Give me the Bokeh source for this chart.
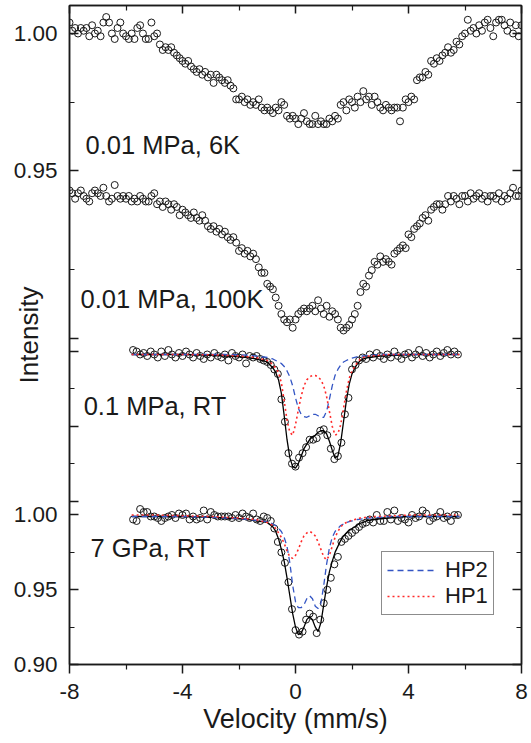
import numpy as np
from bokeh.plotting import figure
from bokeh.models import Range1d, LinearAxis, FixedTicker, Label, Legend, LegendItem
from bokeh.embed import file_html
from bokeh.resources import INLINE

# ---------------- data ----------------
# 0.01 MPa, 6K  (velocity -8 ... 8 mm/s, equally spaced channels)
i_6k = [1.004, 1.001, 1.002, 1.000, 1.002, 1.001, 1.002, 0.999, 1.003, 1.000,
        1.001, 0.999, 1.004, 1.006, 1.004, 1.000, 0.998, 1.002, 1.004, 1.000,
        0.999, 0.998, 1.000, 0.998, 1.002,
        1.003, 1.000, 0.998, 0.998, 1.004, 0.999, 1.000, 0.996, 0.994, 0.995,
        0.994, 0.995, 0.993, 0.992, 0.991, 0.990, 0.989, 0.990, 0.988, 0.987,
        0.986, 0.987, 0.985, 0.986, 0.984, 0.985, 0.982, 0.985, 0.984, 0.983,
        0.982, 0.983, 0.981, 0.980, 0.976, 0.976, 0.977, 0.975, 0.976, 0.974,
        0.975, 0.974, 0.976, 0.973, 0.972, 0.973, 0.972, 0.971, 0.973, 0.972,
        0.975, 0.974, 0.970, 0.969, 0.970, 0.969, 0.967, 0.969, 0.971, 0.968,
        0.967, 0.967, 0.970, 0.967, 0.968, 0.967, 0.967, 0.969, 0.968, 0.970,
        0.969, 0.974, 0.975, 0.972, 0.976, 0.975, 0.973, 0.977, 0.975, 0.979,
        0.976, 0.977, 0.974, 0.977, 0.975, 0.973, 0.972, 0.974, 0.973, 0.972,
        0.973, 0.973, 0.968, 0.973, 0.976, 0.975, 0.977, 0.976, 0.983, 0.984,
        0.984, 0.986, 0.985, 0.990, 0.989, 0.991, 0.990, 0.992, 0.993, 0.995,
        0.993, 0.994, 0.997, 0.996, 0.999, 1.000, 1.005, 1.001, 1.002, 1.000,
        1.003, 1.001, 1.004, 1.005, 1.002, 0.999, 1.004, 1.005, 1.005, 1.003,
        1.001, 1.004, 1.000, 1.003, 0.999, 1.003]

# 0.01 MPa, 100K
i_100k = [1.000, 0.999, 0.997, 0.999, 1.000, 0.998, 0.997, 0.996, 0.999, 1.000,
          0.999, 0.998, 1.001, 0.998, 0.996, 0.997, 1.002, 0.998, 0.997, 0.998,
          0.997, 0.998, 0.996, 0.997, 0.996,
          0.998, 0.997, 0.996, 0.996, 0.998, 0.999, 0.995, 0.996, 0.994, 0.996,
          0.995, 0.993, 0.995, 0.994, 0.991, 0.993, 0.992, 0.991, 0.990, 0.992,
          0.990, 0.989, 0.991, 0.989, 0.987, 0.986, 0.987, 0.985, 0.986, 0.984,
          0.985, 0.983, 0.982, 0.983, 0.981, 0.978, 0.979, 0.977, 0.978, 0.976,
          0.977, 0.975, 0.972, 0.970, 0.970, 0.966, 0.965, 0.964, 0.961, 0.958,
          0.955, 0.953, 0.952, 0.953, 0.950, 0.953, 0.955, 0.956, 0.957, 0.956,
          0.957, 0.958, 0.956, 0.960, 0.957, 0.955, 0.958, 0.954, 0.956, 0.955,
          0.953, 0.950, 0.949, 0.950, 0.951, 0.953, 0.955, 0.958, 0.963, 0.966,
          0.965, 0.969, 0.971, 0.974, 0.973, 0.976, 0.974, 0.975, 0.974, 0.973,
          0.977, 0.978, 0.979, 0.980, 0.979, 0.984, 0.983, 0.986, 0.987, 0.988,
          0.990, 0.991, 0.989, 0.993, 0.994, 0.995, 0.995, 0.993, 0.995, 0.998,
          0.996, 0.998, 0.997, 0.995, 0.998, 0.998, 0.996, 0.999, 0.997, 0.998,
          0.999, 0.997, 0.998, 0.996, 0.998, 0.998, 0.997, 0.999, 0.996, 0.998,
          0.997, 0.999, 1.001, 0.998, 0.998, 1.000]

# 0.1 MPa, RT  (velocity -5.75 ... 5.75 mm/s)
i_01mpa = [1.001, 1.000, 0.998, 0.999, 0.997, 1.000, 0.998, 0.996, 1.000, 0.997,
           1.001, 0.998, 0.996, 0.999, 0.997, 1.000, 0.998, 0.996, 0.999, 0.997,
           0.995, 0.998, 0.996, 0.999, 0.997, 0.996, 0.998, 0.994, 0.999, 0.997,
           0.996, 0.998, 0.992, 0.997, 0.996, 0.997, 0.995, 0.994, 0.993, 0.991,
           0.988, 0.985, 0.968, 0.953, 0.932, 0.925, 0.923, 0.929, 0.932, 0.936,
           0.941, 0.941, 0.942, 0.947, 0.948, 0.944, 0.935, 0.928, 0.930, 0.939,
           0.958, 0.969, 0.988, 0.991, 0.994, 0.996, 0.995, 0.998, 0.996, 0.999,
           0.997, 0.995, 0.998, 0.996, 1.000, 0.997, 0.995, 0.998, 0.999, 0.996,
           0.998, 1.001, 0.997, 0.999, 0.996, 0.998, 1.000, 0.997, 0.999, 1.001,
           0.998, 1.000, 0.998]

# 7 GPa, RT
i_7gpa = [0.997, 0.996, 1.004, 1.002, 1.002, 0.999, 0.999, 0.998, 0.996, 0.998,
          0.999, 1.000, 0.998, 1.001, 1.000, 1.001, 0.997, 0.999, 0.997, 0.998,
          1.003, 0.997, 1.002, 1.000, 0.999, 0.999, 0.999, 0.999, 0.998, 1.000,
          0.998, 1.001, 0.999, 0.998, 1.001, 0.997, 0.996, 0.999, 0.998, 0.996,
          0.991, 0.982, 0.975, 0.968, 0.955, 0.937, 0.923, 0.920, 0.922, 0.930,
          0.934, 0.932, 0.921, 0.930, 0.941, 0.950, 0.958, 0.967, 0.972, 0.982,
          0.984, 0.986, 0.988, 0.990, 0.992, 0.994, 0.995, 0.997, 0.995, 1.000,
          0.996, 0.996, 1.002, 0.997, 1.003, 0.996, 0.998, 0.997, 0.995, 1.000,
          0.998, 0.999, 1.003, 1.001, 0.996, 0.998, 0.999, 1.002, 0.998, 0.999,
          0.996, 1.000, 1.000]

# fitted curves (velocity grid of the fits)
v_fit = [-5.8, -5.0, -4.0, -3.0, -2.5, -2.0, -1.7, -1.4, -1.2,
         -1.0, -0.9, -0.8, -0.7, -0.6, -0.5, -0.4, -0.3, -0.2, -0.1,
         0.0, 0.1, 0.2, 0.3, 0.4, 0.5, 0.6, 0.7, 0.8, 0.9,
         1.0, 1.1, 1.2, 1.3, 1.4, 1.5, 1.6, 1.7, 1.8, 1.9,
         2.0, 2.1, 2.2, 2.3, 2.4, 2.5, 2.6,
         2.8, 3.0, 3.3, 3.6, 4.0, 5.0, 5.8]

fit_01_total = [0.998, 0.998, 0.998, 0.9975, 0.997, 0.9965, 0.996, 0.995, 0.994,
                0.993, 0.991, 0.989, 0.986, 0.981, 0.972, 0.957, 0.941, 0.929, 0.923,
                0.922, 0.925, 0.930, 0.935, 0.938, 0.941, 0.943, 0.944, 0.946, 0.947,
                0.947, 0.945, 0.940, 0.934, 0.929, 0.930, 0.939, 0.953, 0.967, 0.978,
                0.985, 0.989, 0.992, 0.994, 0.995, 0.9955, 0.996,
                0.9965, 0.997, 0.9972, 0.9975, 0.998, 0.998, 0.998]
fit_01_hp2 = [0.998, 0.998, 0.998, 0.998, 0.998, 0.9978, 0.9975, 0.997, 0.9965,
              0.996, 0.9955, 0.995, 0.994, 0.993, 0.992, 0.990, 0.987, 0.983, 0.977,
              0.969, 0.962, 0.958, 0.9565, 0.956, 0.957, 0.958, 0.958, 0.957, 0.956,
              0.956, 0.960, 0.968, 0.977, 0.984, 0.988, 0.991, 0.993, 0.994, 0.995,
              0.9955, 0.996, 0.9965, 0.997, 0.997, 0.9972, 0.9975,
              0.9977, 0.998, 0.998, 0.998, 0.998, 0.998, 0.998]
fit_01_hp1 = [0.998, 0.998, 0.998, 0.9978, 0.9975, 0.997, 0.9965, 0.996, 0.995,
              0.994, 0.993, 0.991, 0.989, 0.986, 0.979, 0.967, 0.954, 0.946, 0.944,
              0.951, 0.961, 0.970, 0.977, 0.981, 0.983, 0.984, 0.984, 0.983, 0.981,
              0.977, 0.970, 0.960, 0.950, 0.944, 0.945, 0.951, 0.962, 0.973, 0.982,
              0.987, 0.990, 0.993, 0.995, 0.996, 0.9965, 0.997,
              0.9972, 0.9975, 0.998, 0.998, 0.998, 0.998, 0.998]

fit_7_total = [0.999, 0.999, 0.999, 0.9985, 0.998, 0.9975, 0.997, 0.996, 0.9955,
               0.995, 0.9935, 0.992, 0.989, 0.984, 0.977, 0.969, 0.958, 0.946, 0.934,
               0.925, 0.920, 0.921, 0.925, 0.930, 0.932, 0.930, 0.925, 0.922, 0.928,
               0.940, 0.952, 0.962, 0.969, 0.975, 0.979, 0.983, 0.986, 0.988, 0.990,
               0.991, 0.992, 0.9935, 0.9945, 0.995, 0.996, 0.9965,
               0.997, 0.9975, 0.998, 0.9985, 0.999, 0.999, 0.999]
fit_7_hp2 = [0.999, 0.999, 0.999, 0.9985, 0.998, 0.9975, 0.997, 0.9965, 0.996,
             0.9955, 0.995, 0.994, 0.993, 0.991, 0.989, 0.985, 0.979, 0.968, 0.953,
             0.942, 0.938, 0.938, 0.940, 0.944, 0.946, 0.944, 0.939, 0.9375, 0.941,
             0.953, 0.967, 0.978, 0.985, 0.989, 0.991, 0.993, 0.994, 0.995, 0.9955,
             0.996, 0.9965, 0.997, 0.9972, 0.9975, 0.998, 0.998,
             0.9982, 0.9985, 0.999, 0.999, 0.999, 0.999, 0.999]
fit_7_hp1 = [1.000, 1.000, 0.9995, 0.999, 0.9985, 0.998, 0.9975, 0.997, 0.996,
             0.995, 0.994, 0.993, 0.991, 0.988, 0.985, 0.981, 0.976, 0.972, 0.971,
             0.973, 0.977, 0.982, 0.986, 0.988, 0.989, 0.988, 0.986, 0.982, 0.977,
             0.972, 0.970, 0.973, 0.979, 0.985, 0.989, 0.992, 0.994, 0.995, 0.996,
             0.9965, 0.997, 0.9975, 0.998, 0.998, 0.9985, 0.9985,
             0.999, 0.999, 0.9995, 0.9995, 1.000, 1.000, 1.000]

panel_names = ["0.01 MPa, 6K", "0.01 MPa, 100K", "0.1 MPa, RT", "7 GPa, RT"]
legend_names = ["HP2", "HP1"]
x_ticks_major = [-8, -4, 0, 4, 8]
x_ticks_minor = [-6, -2, 2, 6]
x_tick_labels = ["-8", "-4", "0", "4", "8"]

# ---------------- stacking of the panels (layout) ----------------
# plotted value = reference + (intensity - 1) * scale
REF_6K, REF_100K, REF_01, REF_7 = 1.32207, 1.21706, 1.10936, 1.0
SCALE_TOP, SCALE_LOW = 1.8361, 1.0


def place(intensity, ref, scale):
    return ref + (np.asarray(intensity, dtype=float) - 1.0) * scale


v_top = np.linspace(-8.0, 8.0, len(i_6k))
v_top2 = np.linspace(-8.0, 8.0, len(i_100k))
v_low = np.linspace(-5.75, 5.75, len(i_01mpa))
v_low2 = np.linspace(-5.75, 5.75, len(i_7gpa))

FONT = "Liberation Sans"
INK = "#1a1a1a"
BLUE = "#3355c4"
RED = "#ff2a2a"

p = figure(width=531, height=743,
           x_range=Range1d(-8, 8), y_range=Range1d(0.90, 1.34080),
           output_backend="svg", toolbar_location=None,
           min_border_left=69, min_border_right=10,
           min_border_top=5, min_border_bottom=79)
p.grid.visible = False
p.outline_line_color = INK
p.outline_line_width = 1.5
p.background_fill_color = "white"
p.border_fill_color = "white"

# ---- data markers
for vx, vals, ref, sc in [(v_top, i_6k, REF_6K, SCALE_TOP),
                          (v_top2, i_100k, REF_100K, SCALE_TOP),
                          (v_low, i_01mpa, REF_01, SCALE_LOW),
                          (v_low2, i_7gpa, REF_7, SCALE_LOW)]:
    p.scatter(vx, place(vals, ref, sc), marker="circle", size=7,
              fill_color=None, line_color=INK, line_width=1)

# ---- fitted lines
renderers = {}
for key, tot, hp2, hp1, ref in [("01", fit_01_total, fit_01_hp2, fit_01_hp1, REF_01),
                                ("7", fit_7_total, fit_7_hp2, fit_7_hp1, REF_7)]:
    p.line(v_fit, place(tot, ref, SCALE_LOW), line_color="black", line_width=1.3)
    r2 = p.line(v_fit, place(hp2, ref, SCALE_LOW), line_color=BLUE,
                line_width=1.3, line_dash="6 4")
    r1 = p.line(v_fit, place(hp1, ref, SCALE_LOW), line_color=RED,
                line_width=1.6, line_dash="2 3")
    renderers[key] = (r2, r1)

# ---- panel labels
label_pos = [(-7.43, 1.2472), (-7.61, 1.1448), (-7.50, 1.0732), (-7.26, 0.9776)]
for name, (lx, ly) in zip(panel_names, label_pos):
    p.add_layout(Label(x=lx, y=ly, text=name, text_font=FONT,
                       text_font_size="25.5px", text_color=INK,
                       text_baseline="alphabetic", text_align="left"))

# ---- y ticks
y_lab = {
    float(place(1.00, REF_6K, SCALE_TOP)): "1.00",
    float(place(0.95, REF_6K, SCALE_TOP)): "0.95",
    float(place(1.00, REF_7, SCALE_LOW)): "1.00",
    float(place(0.95, REF_7, SCALE_LOW)): "0.95",
    float(place(0.90, REF_7, SCALE_LOW)): "0.90",
}
y_major_extra = [1.11806,
                 float(place(1.00, REF_01, SCALE_LOW)),
                 float(place(0.95, REF_01, SCALE_LOW)),
                 float(place(0.90, REF_01, SCALE_LOW))]
y_minor = [float(place(0.975, REF_6K, SCALE_TOP)), 1.16421,
           float(place(0.975, REF_01, SCALE_LOW)),
           float(place(0.925, REF_01, SCALE_LOW)),
           float(place(0.975, REF_7, SCALE_LOW)),
           float(place(0.925, REF_7, SCALE_LOW))]
y_major = list(y_lab.keys()) + y_major_extra
overrides = dict(y_lab)
for t in y_major_extra:
    overrides[t] = ""

yax = p.yaxis[0]
yax.ticker = FixedTicker(ticks=y_major, minor_ticks=y_minor)
yax.major_label_overrides = overrides
yax.major_tick_in = 9
yax.major_tick_out = 0
yax.minor_tick_in = 5
yax.minor_tick_out = 0
yax.major_label_standoff = 12
yax.major_label_text_font = FONT
yax.major_label_text_font_size = "22.5px"
yax.major_label_text_color = INK
yax.axis_label = "Intensity"
yax.axis_label_text_font = FONT
yax.axis_label_text_font_size = "26px"
yax.axis_label_text_font_style = "normal"
yax.axis_label_text_color = INK
yax.axis_label_standoff = -33
yax.axis_line_color = INK
yax.axis_line_width = 1.5
yax.major_tick_line_color = INK
yax.major_tick_line_width = 1.5
yax.minor_tick_line_color = INK
yax.minor_tick_line_width = 1.2

xax = p.xaxis[0]
xax.ticker = FixedTicker(ticks=x_ticks_major, minor_ticks=x_ticks_minor)
xax.major_label_overrides = dict(zip(x_ticks_major, x_tick_labels))
xax.major_tick_in = 0
xax.major_tick_out = 9
xax.minor_tick_in = 0
xax.minor_tick_out = 5
xax.major_label_standoff = 10
xax.major_label_text_font = FONT
xax.major_label_text_font_size = "22.5px"
xax.major_label_text_color = INK
xax.axis_label = "Velocity (mm/s)"
xax.axis_label_text_font = FONT
xax.axis_label_text_font_size = "27px"
xax.axis_label_text_font_style = "normal"
xax.axis_label_text_color = INK
xax.axis_label_standoff = 2
xax.axis_line_color = INK
xax.axis_line_width = 1.5
xax.major_tick_line_color = INK
xax.major_tick_line_width = 1.5
xax.minor_tick_line_color = INK
xax.minor_tick_line_width = 1.2

# mirrored axes (ticks pointing in, labels not drawn)
mirror_style = dict(major_label_text_font_size="1px", major_label_text_color=None,
                    major_label_standoff=0,
                    axis_line_color=INK, axis_line_width=1.5,
                    major_tick_line_color=INK, major_tick_line_width=1.5,
                    minor_tick_line_color=INK, minor_tick_line_width=1.2)
right = LinearAxis(ticker=FixedTicker(ticks=y_major, minor_ticks=y_minor),
                   major_tick_in=9, major_tick_out=0, minor_tick_in=5, minor_tick_out=0,
                   **mirror_style)
p.add_layout(right, "right")
top = LinearAxis(ticker=FixedTicker(ticks=x_ticks_major, minor_ticks=x_ticks_minor),
                 major_tick_in=8, major_tick_out=0, minor_tick_in=5, minor_tick_out=0,
                 **mirror_style)
p.add_layout(top, "above")

# legend
r2, r1 = renderers["7"]
legend = Legend(items=[LegendItem(label=legend_names[0], renderers=[r2]),
                       LegendItem(label=legend_names[1], renderers=[r1])],
                location=(312, 49), orientation="vertical",
                border_line_color=INK, border_line_width=1,
                background_fill_color="white", background_fill_alpha=1,
                padding=5, spacing=0, margin=0,
                glyph_width=50, glyph_height=20, label_height=20, label_standoff=8,
                label_text_font=FONT, label_text_font_size="22px",
                label_text_color=INK)
p.add_layout(legend)

open("out.html", "w").write(file_html(p, INLINE))
